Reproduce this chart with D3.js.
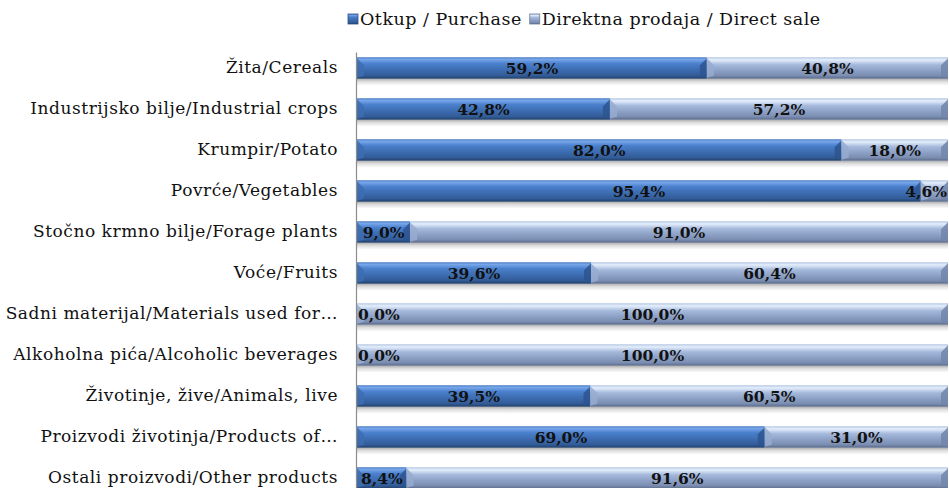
<!DOCTYPE html>
<html>
<head>
<meta charset="utf-8">
<script src="https://cdn.jsdelivr.net/npm/d3@7"></script>
<style>
  body { margin: 0; background: #fff; }
  svg { display: block; }
  text { font-family: "DejaVu Serif", serif; }
</style>
</head>
<body>
<div id="svg-container"></div>
<script>
// categorieen (van boven naar beneden)
const categories = [
  'Žita/Cereals',
  'Industrijsko bilje/Industrial crops',
  'Krumpir/Potato',
  'Povrće/Vegetables',
  'Stočno krmno bilje/Forage plants',
  'Voće/Fruits',
  'Sadni materijal/Materials used for…',
  'Alkoholna pića/Alcoholic beverages',
  'Životinje, žive/Animals, live',
  'Proizvodi životinja/Products of…',
  'Ostali proizvodi/Other products'
]
const purchase = [59.2, 42.8, 82.0, 95.4, 9.0, 39.6, 0.0, 0.0, 39.5, 69.0, 8.4]
const directSale = [40.8, 57.2, 18.0, 4.6, 91.0, 60.4, 100.0, 100.0, 60.5, 31.0, 91.6]
const seriesNames = ['Otkup / Purchase', 'Direktna prodaja / Direct sale']

const width = 949
const height = 488
const margin = { top: 47.5, right: 1, bottom: -10.5, left: 357 }
const innerWidth = width - margin.left - margin.right
const innerHeight = height - margin.top - margin.bottom

const svg = d3.select('#svg-container')
  .append('svg').attr('width', width).attr('height', height)

// gradienten voor de 3D look
const defs = svg.append('defs')
function gradient(id, stops) {
  const g = defs.append('linearGradient').attr('id', id)
    .attr('x1', 0).attr('y1', 0).attr('x2', 0).attr('y2', 1)
  stops.forEach(s => g.append('stop').attr('offset', s[0]).attr('stop-color', s[1]))
}
gradient('gPurchase', [[0, '#4a7bc2'], [0.1, '#78a6ea'], [0.3, '#4a80cc'], [0.65, '#3a68ab'], [0.85, '#325c97'], [1, '#23406a']])
gradient('gDirect', [[0, '#b4c6e2'], [0.12, '#e4eefc'], [0.35, '#a5b9dc'], [0.65, '#8a9ec3'], [0.85, '#7b8eb2'], [1, '#5a6a89']])
gradient('gShadow', [[0, '#b0b0b0'], [0.4, '#dddddd'], [1, '#ffffff']])

const colors = {
  purchase: { fill: 'url(#gPurchase)', capL: '#3d6cb0', capR: '#2d558f' },
  direct: { fill: 'url(#gDirect)', capL: '#97abd0', capR: '#7285aa' }
}

const yScale = d3.scaleBand()
  .domain(categories)
  .range([0, innerHeight])
  .paddingInner(0.475)
  .paddingOuter(0.2375)

const xScale = d3.scaleLinear()
  .domain([0, 100])
  .range([0, innerWidth])

const g = svg.append('g')
  .attr('transform', `translate(${margin.left}, ${margin.top})`)

// categorie labels
const yAxis = d3.axisLeft(yScale).tickSize(0).tickPadding(19)
const yAxisG = g.append('g').call(yAxis)
yAxisG.select('.domain').remove()
yAxisG.selectAll('text')
  .attr('font-family', '"DejaVu Serif", serif')
  .attr('font-size', 17)
  .attr('letter-spacing', 0.55)
  .attr('fill', '#111')

// schaduw onder de balken
g.selectAll('.shadow').data(categories).enter().append('rect')
  .attr('x', 0)
  .attr('y', d => yScale(d) + yScale.bandwidth())
  .attr('width', innerWidth)
  .attr('height', 7)
  .attr('fill', 'url(#gShadow)')

// gestapelde data
const rows = categories.map((c, i) => ({ cat: c, purchase: purchase[i], direct: directSale[i] }))
const stack = d3.stack().keys(['purchase', 'direct'])(rows)

const bevel = 7
stack.forEach(layer => {
  const key = layer.key
  const layerG = g.append('g')
  layer.forEach(d => {
    const x0 = xScale(d[0])
    const x1 = xScale(d[1])
    const y0 = yScale(d.data.cat)
    const h = yScale.bandwidth()
    const w = x1 - x0
    if (w <= 0) return
    layerG.append('rect')
      .attr('x', x0).attr('y', y0).attr('width', w).attr('height', h)
      .attr('fill', colors[key].fill)
    const b = Math.min(bevel, w / 2)
    // linker bevel
    layerG.append('path')
      .attr('d', `M${x0},${y0 + 1}L${x0 + b},${y0 + b + 1}L${x0 + b},${y0 + h - 3}L${x0},${y0 + h - 1}Z`)
      .attr('fill', colors[key].capL).attr('opacity', 0.85)
    // rechter bevel
    layerG.append('path')
      .attr('d', `M${x1},${y0 + 1}L${x1 - b},${y0 + b + 1}L${x1 - b},${y0 + h - 3}L${x1},${y0 + h - 1}Z`)
      .attr('fill', colors[key].capR).attr('opacity', 0.85)
  })
})

// verticale as lijn
g.append('line')
  .attr('x1', -0.5).attr('x2', -0.5)
  .attr('y1', 5).attr('y2', innerHeight)
  .attr('stroke', '#8c8c8c').attr('stroke-width', 1.2)

// data labels
const fmt = v => v.toFixed(1).replace('.', ',') + '%'
stack.forEach(layer => {
  layer.forEach(d => {
    const v = d.data[layer.key]
    const x0 = xScale(d[0])
    const x1 = xScale(d[1])
    const t = g.append('text')
      .attr('y', yScale(d.data.cat) + yScale.bandwidth() / 2)
      .attr('dy', '0.38em')
      .attr('text-anchor', 'middle')
      .attr('font-size', 15.5)
      .attr('font-weight', 'bold')
      .attr('fill', '#111')
      .text(fmt(v))
    const tw = t.node().getComputedTextLength()
    let cx = (x0 + x1) / 2
    if (cx - tw / 2 < 1) cx = tw / 2 + 1
    if (cx + tw / 2 > innerWidth - 1) cx = innerWidth - 1 - tw / 2
    t.attr('x', cx)
  })
})

// legenda
const legend = svg.append('g').attr('transform', 'translate(348, 19)')
let lx = 0
seriesNames.forEach((name, i) => {
  const lg = legend.append('g').attr('transform', `translate(${lx}, 0)`)
  lg.append('rect')
    .attr('x', 0).attr('y', -5).attr('width', 10).attr('height', 10)
    .attr('fill', i === 0 ? colors.purchase.fill : colors.direct.fill)
    .attr('stroke', i === 0 ? '#2c4f82' : '#6a7a99').attr('stroke-width', 0.8)
  const t = lg.append('text')
    .attr('x', 12).attr('y', 0).attr('dy', '0.35em')
    .attr('font-size', 17.5)
    .attr('letter-spacing', 0.5)
    .attr('fill', '#111')
    .text(name)
  lx += 12 + t.node().getComputedTextLength() + 8
})
</script>
</body>
</html>
